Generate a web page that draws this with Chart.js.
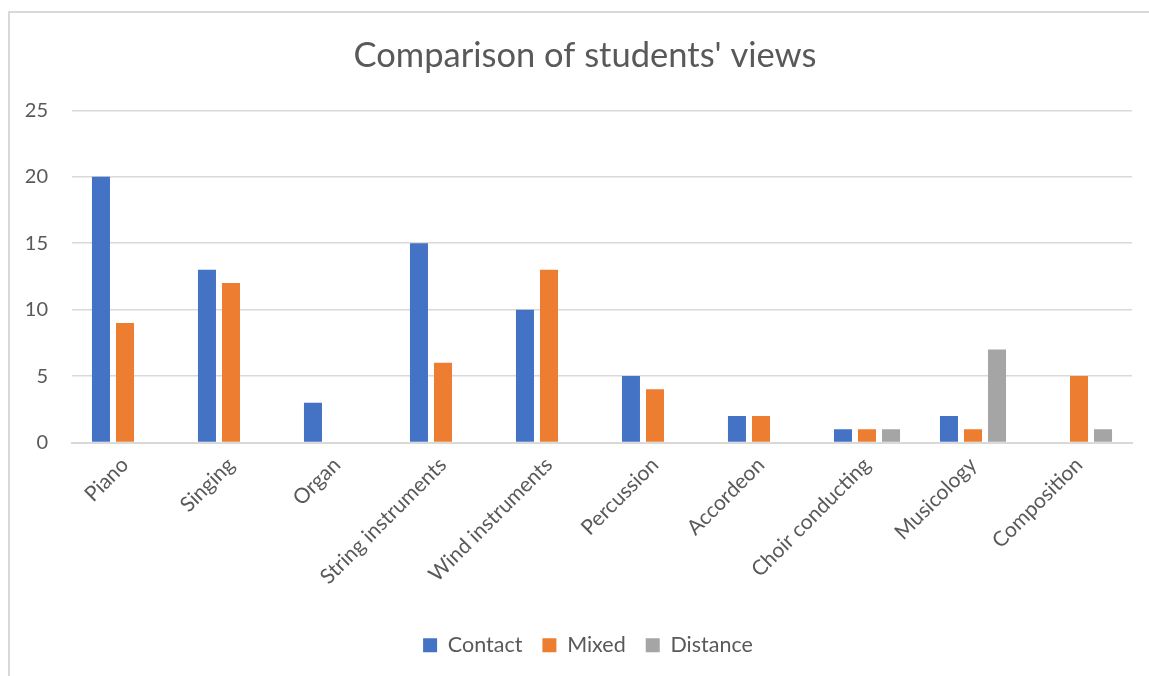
<!DOCTYPE html>
<html>
<head>
<meta charset="utf-8">
<script src="https://cdn.jsdelivr.net/npm/chart.js@4/dist/chart.umd.min.js"></script>
<style>
  html, body { margin: 0; padding: 0; background: #fff; overflow: hidden; }
  #frame { position: absolute; left: 8px; top: 11px; width: 1141px; height: 665px;
           border-top: 2px solid #d9d9d9; border-left: 2px solid #d9d9d9; box-sizing: border-box; }
  #wrap { position: absolute; left: 0; top: 0; width: 1149px; height: 676px; }
</style>
</head>
<body>
<div id="frame"></div>
<div id="wrap"><canvas id="chart"></canvas></div>
<script>
// categories and values
const instruments = ["Piano", "Singing", "Organ", "String instruments", "Wind instruments",
                     "Percussion", "Accordeon", "Choir conducting", "Musicology", "Composition"];
const contact  = [20, 13, 3, 15, 10, 5, 2, 1, 2, 0];
const mixed    = [9, 12, 0, 6, 13, 4, 2, 1, 1, 5];
const distance = [0, 0, 0, 0, 0, 0, 0, 1, 7, 1];
const yTicks   = [0, 5, 10, 15, 20, 25];

const txt = "#595959";
const fam = "Lato, 'Open Sans', sans-serif";

// title and legend in the original sit centred under the plot, not the whole canvas
const shiftBoxes = {
    id: "shiftBoxes",
    afterLayout(chart) {
        chart.legend.left += 22;
        chart.legend.right += 22;
        chart.titleBlock.left += 19;
        chart.titleBlock.right += 19;
    }
};

const ctx = document.getElementById("chart");
new Chart(ctx, {
    type: "bar",
    data: {
        labels: instruments,
        datasets: [
            { label: "Contact", data: contact, backgroundColor: "#4472C4" },
            { label: "Mixed", data: mixed, backgroundColor: "#ED7D31" },
            { label: "Distance", data: distance, backgroundColor: "#A5A5A5" }
        ]
    },
    plugins: [shiftBoxes],
    options: {
        responsive: true,
        maintainAspectRatio: false,
        animation: false,
        devicePixelRatio: 1,
        categoryPercentage: 0.68,
        barPercentage: 0.75,
        layout: { padding: { left: 0, right: 17, top: 0, bottom: 10 } },
        plugins: {
            title: {
                display: true,
                text: "Comparison of students' views",
                color: txt,
                font: { family: fam, size: 34.5, weight: "normal" },
                padding: { top: 35, bottom: 34 }
            },
            legend: {
                position: "bottom",
                labels: {
                    color: txt,
                    font: { family: fam, size: 21.5 },
                    boxWidth: 14,
                    boxHeight: 14,
                    padding: 20
                }
            },
            tooltip: { enabled: false }
        },
        scales: {
            x: {
                grid: { display: false, drawTicks: false },
                border: { color: "#d9d9d9", width: 2 },
                ticks: {
                    color: txt,
                    font: { family: fam, size: 21 },
                    minRotation: 45,
                    maxRotation: 45,
                    padding: 10
                },
                afterFit(scale) { scale.height = 172; }
            },
            y: {
                min: 0,
                max: 25,
                afterBuildTicks(scale) { scale.ticks = yTicks.map(v => ({ value: v })); },
                grid: { color: "#d9d9d9", lineWidth: 1.5, drawTicks: false },
                border: { display: false },
                ticks: {
                    color: txt,
                    font: { family: fam, size: 20 },
                    padding: 24
                },
                afterFit(scale) { scale.width = 72; }
            }
        }
    }
});
</script>
</body>
</html>
